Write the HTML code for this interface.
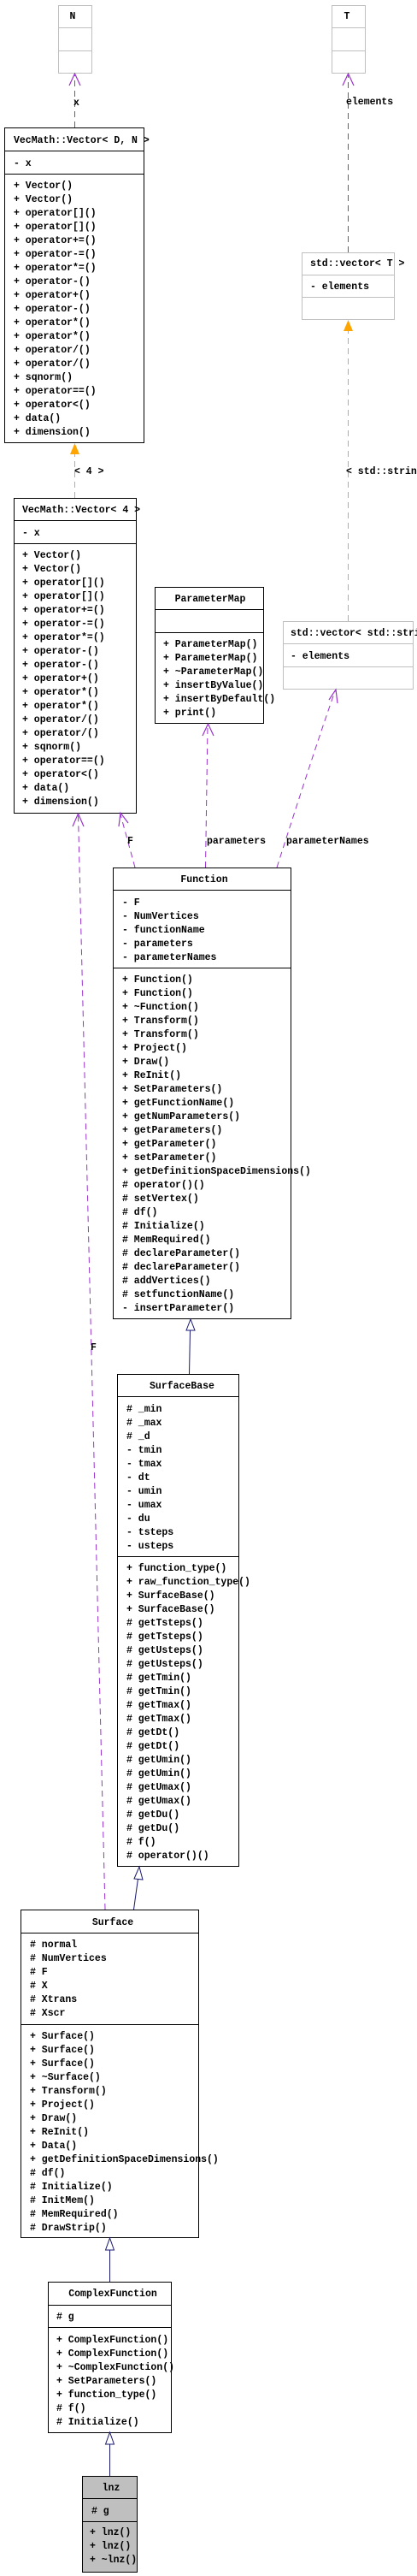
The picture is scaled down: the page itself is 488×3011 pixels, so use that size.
<!DOCTYPE html>
<html><head><meta charset="utf-8"><style>
html,body{margin:0;padding:0;background:#fff;}
svg{display:block}
text{font-family:"Liberation Mono",monospace;font-weight:bold;font-size:11.5px;fill:#000}
.b{fill:#fff;stroke:#000;stroke-width:1}
.g{fill:#fff;stroke:#bfbfbf;stroke-width:1}
.l{stroke:#000;stroke-width:1}
.lg{stroke:#bfbfbf;stroke-width:1}
.p{stroke:#9a32cd;stroke-width:1;fill:none;stroke-dasharray:7,5}
.o{stroke:#ffa500;stroke-width:1;fill:none;stroke-dasharray:7,5}
.n{stroke:#191970;stroke-width:1;fill:none}
</style></head><body>
<svg width="488" height="3011" viewBox="0 0 488 3011" xmlns="http://www.w3.org/2000/svg">
<!-- N -->
<rect class="g" x="68.5" y="6.5" width="39" height="79"/>
<line class="lg" x1="68.5" y1="32.5" x2="107.5" y2="32.5"/>
<line class="lg" x1="68.5" y1="59.5" x2="107.5" y2="59.5"/>
<text x="85" y="22" text-anchor="middle">N</text>
<!-- T -->
<rect class="g" x="388.5" y="6.5" width="39" height="79"/>
<line class="lg" x1="388.5" y1="32.5" x2="427.5" y2="32.5"/>
<line class="lg" x1="388.5" y1="59.5" x2="427.5" y2="59.5"/>
<text x="406" y="22" text-anchor="middle">T</text>

<!-- arrows top -->
<line class="p" x1="87.5" y1="149" x2="87.5" y2="88"/>
<polyline points="81,100 87.5,86 94,100" fill="none" stroke="#9a32cd" stroke-width="1.2"/>
<text x="86" y="123">x</text>
<line class="p" x1="407.5" y1="295" x2="407.5" y2="88"/>
<polyline points="401,100 407.5,86 414,100" fill="none" stroke="#9a32cd" stroke-width="1.2"/>
<text x="405" y="122">elements</text>

<!-- Vector<D,N> -->
<rect class="b" x="5.5" y="149.5" width="163" height="368"/>
<line class="l" x1="5.5" y1="176.5" x2="168.5" y2="176.5"/>
<line class="l" x1="5.5" y1="203.5" x2="168.5" y2="203.5"/>
<text x="16" y="167">VecMath::Vector&lt; D, N &gt;</text>
<text x="16" y="194">- x</text>
<text x="16" y="220"><tspan x="16">+ Vector()</tspan><tspan x="16" dy="16">+ Vector()</tspan><tspan x="16" dy="16">+ operator[]()</tspan><tspan x="16" dy="16">+ operator[]()</tspan><tspan x="16" dy="16">+ operator+=()</tspan><tspan x="16" dy="16">+ operator-=()</tspan><tspan x="16" dy="16">+ operator*=()</tspan><tspan x="16" dy="16">+ operator-()</tspan><tspan x="16" dy="16">+ operator+()</tspan><tspan x="16" dy="16">+ operator-()</tspan><tspan x="16" dy="16">+ operator*()</tspan><tspan x="16" dy="16">+ operator*()</tspan><tspan x="16" dy="16">+ operator/()</tspan><tspan x="16" dy="16">+ operator/()</tspan><tspan x="16" dy="16">+ sqnorm()</tspan><tspan x="16" dy="16">+ operator==()</tspan><tspan x="16" dy="16">+ operator&lt;()</tspan><tspan x="16" dy="16">+ data()</tspan><tspan x="16" dy="16">+ dimension()</tspan></text>

<!-- std::vector<T> -->
<rect class="g" x="353.5" y="295.5" width="108" height="78"/>
<line class="lg" x1="353.5" y1="321.5" x2="461.5" y2="321.5"/>
<line class="lg" x1="353.5" y1="347.5" x2="461.5" y2="347.5"/>
<text x="363" y="311">std::vector&lt; T &gt;</text>
<text x="363" y="338">- elements</text>

<!-- orange -->
<line class="o" x1="87.5" y1="582" x2="87.5" y2="530"/>
<polygon points="82,531 87.5,518 93,531" fill="#ffa500"/>
<text x="87" y="554">&lt; 4 &gt;</text>
<line class="o" x1="407.5" y1="726" x2="407.5" y2="386"/>
<polygon points="402,387 407.5,374 413,387" fill="#ffa500"/>
<text x="405" y="554">&lt; std::string &gt;</text>

<!-- Vector<4> -->
<rect class="b" x="16.5" y="582.5" width="143" height="368"/>
<line class="l" x1="16.5" y1="608.5" x2="159.5" y2="608.5"/>
<line class="l" x1="16.5" y1="635.5" x2="159.5" y2="635.5"/>
<text x="26" y="599">VecMath::Vector&lt; 4 &gt;</text>
<text x="26" y="626">- x</text>
<text x="26" y="652"><tspan x="26">+ Vector()</tspan><tspan x="26" dy="16">+ Vector()</tspan><tspan x="26" dy="16">+ operator[]()</tspan><tspan x="26" dy="16">+ operator[]()</tspan><tspan x="26" dy="16">+ operator+=()</tspan><tspan x="26" dy="16">+ operator-=()</tspan><tspan x="26" dy="16">+ operator*=()</tspan><tspan x="26" dy="16">+ operator-()</tspan><tspan x="26" dy="16">+ operator-()</tspan><tspan x="26" dy="16">+ operator+()</tspan><tspan x="26" dy="16">+ operator*()</tspan><tspan x="26" dy="16">+ operator*()</tspan><tspan x="26" dy="16">+ operator/()</tspan><tspan x="26" dy="16">+ operator/()</tspan><tspan x="26" dy="16">+ sqnorm()</tspan><tspan x="26" dy="16">+ operator==()</tspan><tspan x="26" dy="16">+ operator&lt;()</tspan><tspan x="26" dy="16">+ data()</tspan><tspan x="26" dy="16">+ dimension()</tspan></text>

<!-- ParameterMap -->
<rect class="b" x="181.5" y="686.5" width="127" height="159"/>
<line class="l" x1="181.5" y1="712.5" x2="308.5" y2="712.5"/>
<line class="l" x1="181.5" y1="739.5" x2="308.5" y2="739.5"/>
<text x="246" y="703" text-anchor="middle">ParameterMap</text>
<text x="191" y="756"><tspan x="191">+ ParameterMap()</tspan><tspan x="191" dy="16">+ ParameterMap()</tspan><tspan x="191" dy="16">+ ~ParameterMap()</tspan><tspan x="191" dy="16">+ insertByValue()</tspan><tspan x="191" dy="16">+ insertByDefault()</tspan><tspan x="191" dy="16">+ print()</tspan></text>

<!-- std::vector<std::string> -->
<rect class="g" x="331.5" y="726.5" width="152" height="79"/>
<line class="lg" x1="331.5" y1="752.5" x2="483.5" y2="752.5"/>
<line class="lg" x1="331.5" y1="779.5" x2="483.5" y2="779.5"/>
<text x="340" y="743">std::vector&lt; std::string &gt;</text>
<text x="340" y="770">- elements</text>

<!-- purple to Vector<4>/ParamMap/vec -->
<path class="p" d="M158,1014 L141,952"/>
<polyline points="139,966 141,950 150,962" fill="none" stroke="#9a32cd" stroke-width="1.2"/>
<text x="149" y="986">F</text>
<path class="p" d="M240.5,1014 L243,848"/>
<polyline points="237,860 243.5,846 250,860" fill="none" stroke="#9a32cd" stroke-width="1.2"/>
<text x="242" y="986">parameters</text>
<path class="p" d="M324,1014 Q370,870 392,808"/>
<polyline points="385,818 393,806 395,822" fill="none" stroke="#9a32cd" stroke-width="1.2"/>
<text x="335" y="986">parameterNames</text>
<path class="p" d="M123,2232 L91.5,952"/>
<polyline points="85,966 91.5,951 98,966" fill="none" stroke="#9a32cd" stroke-width="1.2"/>
<text x="106" y="1578">F</text>

<!-- Function -->
<rect class="b" x="132.5" y="1014.5" width="208" height="527"/>
<line class="l" x1="132.5" y1="1040.5" x2="340.5" y2="1040.5"/>
<line class="l" x1="132.5" y1="1131.5" x2="340.5" y2="1131.5"/>
<text x="239" y="1031" text-anchor="middle">Function</text>
<text x="143" y="1058"><tspan x="143">- F</tspan><tspan x="143" dy="16">- NumVertices</tspan><tspan x="143" dy="16">- functionName</tspan><tspan x="143" dy="16">- parameters</tspan><tspan x="143" dy="16">- parameterNames</tspan></text>
<text x="143" y="1148"><tspan x="143">+ Function()</tspan><tspan x="143" dy="16">+ Function()</tspan><tspan x="143" dy="16">+ ~Function()</tspan><tspan x="143" dy="16">+ Transform()</tspan><tspan x="143" dy="16">+ Transform()</tspan><tspan x="143" dy="16">+ Project()</tspan><tspan x="143" dy="16">+ Draw()</tspan><tspan x="143" dy="16">+ ReInit()</tspan><tspan x="143" dy="16">+ SetParameters()</tspan><tspan x="143" dy="16">+ getFunctionName()</tspan><tspan x="143" dy="16">+ getNumParameters()</tspan><tspan x="143" dy="16">+ getParameters()</tspan><tspan x="143" dy="16">+ getParameter()</tspan><tspan x="143" dy="16">+ setParameter()</tspan><tspan x="143" dy="16">+ getDefinitionSpaceDimensions()</tspan><tspan x="143" dy="16"># operator()()</tspan><tspan x="143" dy="16"># setVertex()</tspan><tspan x="143" dy="16"># df()</tspan><tspan x="143" dy="16"># Initialize()</tspan><tspan x="143" dy="16"># MemRequired()</tspan><tspan x="143" dy="16"># declareParameter()</tspan><tspan x="143" dy="16"># declareParameter()</tspan><tspan x="143" dy="16"># addVertices()</tspan><tspan x="143" dy="16"># setfunctionName()</tspan><tspan x="143" dy="16">- insertParameter()</tspan></text>

<!-- Function <- SurfaceBase -->
<path class="n" d="M221.5,1606 L222.5,1555"/>
<polygon points="218,1555 223,1542 228,1555" fill="#fff" stroke="#191970"/>

<!-- SurfaceBase -->
<rect class="b" x="137.5" y="1606.5" width="142" height="575"/>
<line class="l" x1="137.5" y1="1632.5" x2="279.5" y2="1632.5"/>
<line class="l" x1="137.5" y1="1819.5" x2="279.5" y2="1819.5"/>
<text x="213" y="1623" text-anchor="middle">SurfaceBase</text>
<text x="148" y="1650"><tspan x="148"># _min</tspan><tspan x="148" dy="16"># _max</tspan><tspan x="148" dy="16"># _d</tspan><tspan x="148" dy="16">- tmin</tspan><tspan x="148" dy="16">- tmax</tspan><tspan x="148" dy="16">- dt</tspan><tspan x="148" dy="16">- umin</tspan><tspan x="148" dy="16">- umax</tspan><tspan x="148" dy="16">- du</tspan><tspan x="148" dy="16">- tsteps</tspan><tspan x="148" dy="16">- usteps</tspan></text>
<text x="148" y="1836"><tspan x="148">+ function_type()</tspan><tspan x="148" dy="16">+ raw_function_type()</tspan><tspan x="148" dy="16">+ SurfaceBase()</tspan><tspan x="148" dy="16">+ SurfaceBase()</tspan><tspan x="148" dy="16"># getTsteps()</tspan><tspan x="148" dy="16"># getTsteps()</tspan><tspan x="148" dy="16"># getUsteps()</tspan><tspan x="148" dy="16"># getUsteps()</tspan><tspan x="148" dy="16"># getTmin()</tspan><tspan x="148" dy="16"># getTmin()</tspan><tspan x="148" dy="16"># getTmax()</tspan><tspan x="148" dy="16"># getTmax()</tspan><tspan x="148" dy="16"># getDt()</tspan><tspan x="148" dy="16"># getDt()</tspan><tspan x="148" dy="16"># getUmin()</tspan><tspan x="148" dy="16"># getUmin()</tspan><tspan x="148" dy="16"># getUmax()</tspan><tspan x="148" dy="16"># getUmax()</tspan><tspan x="148" dy="16"># getDu()</tspan><tspan x="148" dy="16"># getDu()</tspan><tspan x="148" dy="16"># f()</tspan><tspan x="148" dy="16"># operator()()</tspan></text>

<!-- SurfaceBase <- Surface -->
<path class="n" d="M156.5,2232 L161.5,2196"/>
<polygon points="157,2196 163,2182 167,2197" fill="#fff" stroke="#191970"/>

<!-- Surface -->
<rect class="b" x="24.5" y="2232.5" width="208" height="383"/>
<line class="l" x1="24.5" y1="2259.5" x2="232.5" y2="2259.5"/>
<line class="l" x1="24.5" y1="2366.5" x2="232.5" y2="2366.5"/>
<text x="132" y="2250" text-anchor="middle">Surface</text>
<text x="35" y="2276"><tspan x="35"># normal</tspan><tspan x="35" dy="16"># NumVertices</tspan><tspan x="35" dy="16"># F</tspan><tspan x="35" dy="16"># X</tspan><tspan x="35" dy="16"># Xtrans</tspan><tspan x="35" dy="16"># Xscr</tspan></text>
<text x="35" y="2383"><tspan x="35">+ Surface()</tspan><tspan x="35" dy="16">+ Surface()</tspan><tspan x="35" dy="16">+ Surface()</tspan><tspan x="35" dy="16">+ ~Surface()</tspan><tspan x="35" dy="16">+ Transform()</tspan><tspan x="35" dy="16">+ Project()</tspan><tspan x="35" dy="16">+ Draw()</tspan><tspan x="35" dy="16">+ ReInit()</tspan><tspan x="35" dy="16">+ Data()</tspan><tspan x="35" dy="16">+ getDefinitionSpaceDimensions()</tspan><tspan x="35" dy="16"># df()</tspan><tspan x="35" dy="16"># Initialize()</tspan><tspan x="35" dy="16"># InitMem()</tspan><tspan x="35" dy="16"># MemRequired()</tspan><tspan x="35" dy="16"># DrawStrip()</tspan></text>

<!-- Surface <- ComplexFunction -->
<line class="n" x1="128.5" y1="2667" x2="128.5" y2="2630"/>
<polygon points="123.5,2630 128.5,2616 133.5,2630" fill="#fff" stroke="#191970"/>

<!-- ComplexFunction -->
<rect class="b" x="56.5" y="2667.5" width="144" height="176"/>
<line class="l" x1="56.5" y1="2694.5" x2="200.5" y2="2694.5"/>
<line class="l" x1="56.5" y1="2720.5" x2="200.5" y2="2720.5"/>
<text x="132" y="2684" text-anchor="middle">ComplexFunction</text>
<text x="66" y="2711"># g</text>
<text x="66" y="2738"><tspan x="66">+ ComplexFunction()</tspan><tspan x="66" dy="16">+ ComplexFunction()</tspan><tspan x="66" dy="16">+ ~ComplexFunction()</tspan><tspan x="66" dy="16">+ SetParameters()</tspan><tspan x="66" dy="16">+ function_type()</tspan><tspan x="66" dy="16"># f()</tspan><tspan x="66" dy="16"># Initialize()</tspan></text>

<!-- ComplexFunction <- lnz -->
<line class="n" x1="128.5" y1="2894" x2="128.5" y2="2857"/>
<polygon points="123.5,2857 128.5,2843 133.5,2857" fill="#fff" stroke="#191970"/>

<!-- lnz -->
<rect x="96.5" y="2894.5" width="64" height="112" fill="#bfbfbf" stroke="#000"/>
<line class="l" x1="96.5" y1="2920.5" x2="160.5" y2="2920.5"/>
<line class="l" x1="96.5" y1="2947.5" x2="160.5" y2="2947.5"/>
<text x="130" y="2911" text-anchor="middle">lnz</text>
<text x="107" y="2938"># g</text>
<text x="105" y="2963"><tspan x="105">+ lnz()</tspan><tspan x="105" dy="16">+ lnz()</tspan><tspan x="105" dy="16">+ ~lnz()</tspan></text>
</svg>
</body></html>
